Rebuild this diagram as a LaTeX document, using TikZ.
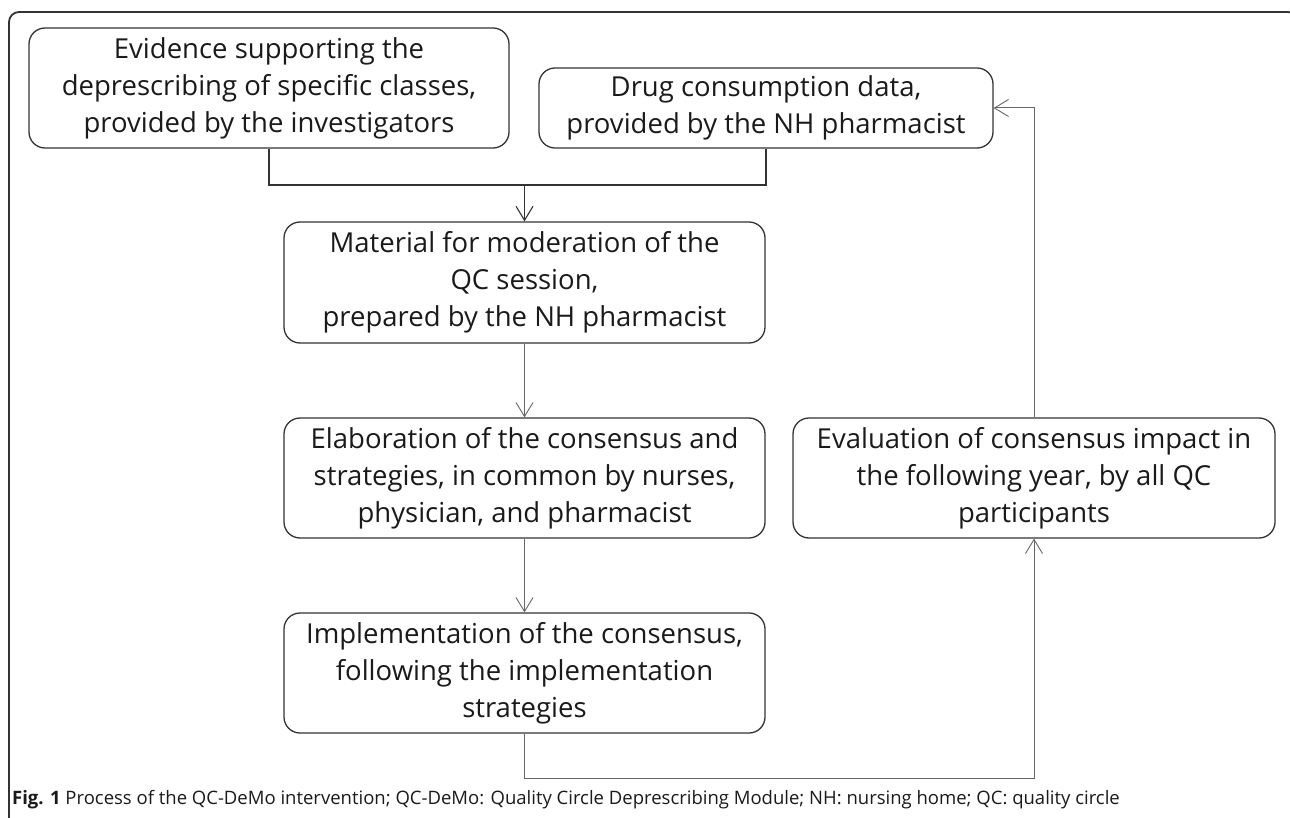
\documentclass[tikz,border=0pt]{standalone}
\usepackage{fontspec}
\setmainfont{Open Sans}
\usetikzlibrary{arrows.meta}
\definecolor{boxline}{HTML}{333333}
\definecolor{conline}{HTML}{666666}
\definecolor{txt}{HTML}{1A1A1A}
\tikzset{
  stepbox/.style={draw=boxline, line width=1.3pt, rounded corners=16pt, align=center,
    text=txt, font=\fontsize{27.5}{37}\selectfont, inner sep=0pt},
  con/.style={draw=conline, line width=1pt},
  conarr/.style={con, -{Straight Barb[length=14pt,width=17pt,line width=0.9pt]}},
  darkcon/.style={draw=boxline, line width=1.3pt},
  darkarr/.style={darkcon, -{Straight Barb[length=14pt,width=17pt,line width=1.1pt]}},
}
\begin{document}
\begin{tikzpicture}[x=1pt,y=-1pt]
\useasboundingbox (0,0) rectangle (1290,818);
% outer frame
\draw[boxline, line width=1.8pt, rounded corners=10pt] (9,830) -- (9,12) -- (1298,12) -- (1298,40);
% boxes
\node[stepbox, minimum width=480pt, minimum height=120pt] (b1) at (269,88)
  {Evidence supporting the\\deprescribing of specific classes,\\provided by the investigators};
\node[stepbox, minimum width=454pt, minimum height=80pt] (b2) at (766,108)
  {Drug consumption data,\\provided by the NH pharmacist};
\node[stepbox, minimum width=481pt, minimum height=121pt] (b3) at (524.5,282.5)
  {Material for moderation of the\\QC session,\\prepared by the NH pharmacist};
\node[stepbox, minimum width=481pt, minimum height=120pt] (b4) at (524.5,478)
  {Elaboration of the consensus and\\strategies, in common by nurses,\\physician, and pharmacist};
\node[stepbox, minimum width=481pt, minimum height=120pt] (b5) at (524.5,673)
  {Implementation of the consensus,\\following the implementation\\strategies};
\node[stepbox, minimum width=482pt, minimum height=120pt] (b6) at (1034,478)
  {Evaluation of consensus impact in\\the following year, by all QC\\participants};
% connectors
\coordinate (j) at (524.5,185);
\coordinate (c) at (1034,778);
\draw[darkcon] (b1.south) |- (j);
\draw[darkcon] (b2.south) |- (j);
\draw[darkarr] (j) -- (b3.north);
\draw[conarr] (b3.south) -- (b4.north);
\draw[conarr] (b4.south) -- (b5.north);
\draw[conarr] (b5.south) |- (c) -- (b6.south);
\draw[conarr] (b6.north) |- (b2.east);
% caption
\node[anchor=base west, inner sep=0pt, text=txt, font=\fontsize{18.5}{22}\selectfont] (cap) at (12,804)
  {\textbf{Fig. 1} Process of the QC-DeMo intervention; QC-DeMo: Quality Circle Deprescribing Module; NH: nursing home; QC: quality circle};
\end{tikzpicture}
\end{document}
